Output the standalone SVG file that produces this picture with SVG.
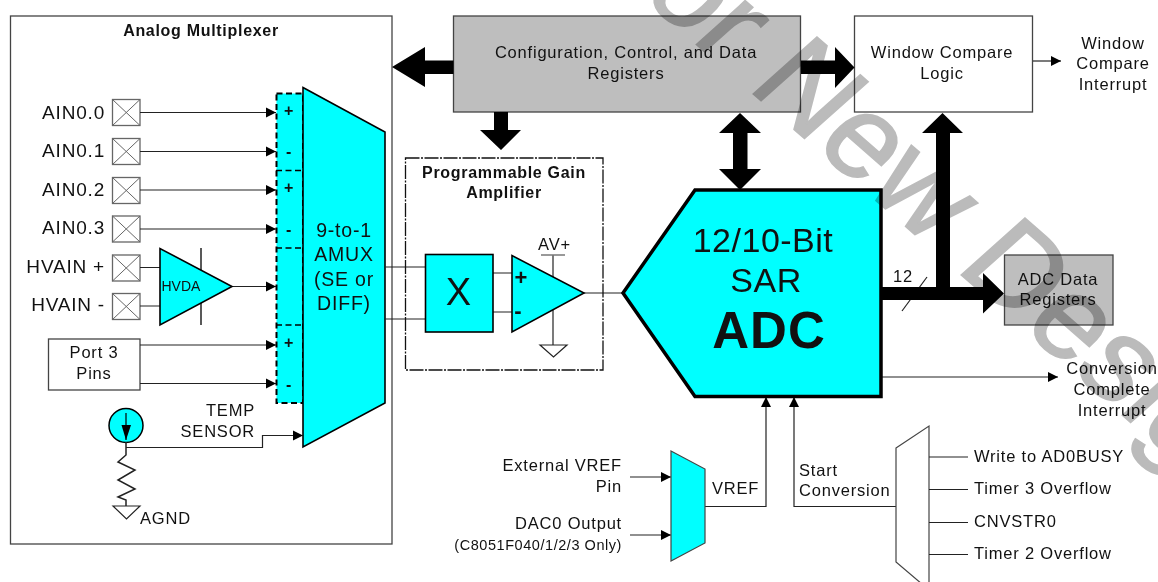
<svg xmlns="http://www.w3.org/2000/svg" width="1158" height="582" viewBox="0 0 1158 582">
<style>
text{font-family:"Liberation Sans",Arial,sans-serif;fill:#111;font-size:16.5px;letter-spacing:.8px}
.m{text-anchor:middle}.e{text-anchor:end}.b{font-weight:bold;font-size:16px;letter-spacing:.7px}
.box{fill:#fff;stroke:#444;stroke-width:1.3}
.gray{fill:#bebebe;stroke:#444;stroke-width:1.3}
.cy{fill:#0ff;stroke:#000;stroke-width:1.6}
.ln{fill:none;stroke:#222;stroke-width:1.2}
.pin line{stroke:#666;stroke-width:1}
.pin rect{fill:#fff;stroke:#666;stroke-width:1.3}
.pl{font-size:19px}
.sg{font-size:16px;font-weight:bold}
.th{fill:#000;stroke:none}
</style>
<defs>
<marker id="a" markerUnits="userSpaceOnUse" markerWidth="12" markerHeight="12" refX="10.500" refY="6" orient="auto"><path d="M.5 1L10.500 6L.5 11z" fill="#000"/></marker>
</defs>
<g id="analog-mux">
<rect class="box" x="10.500" y="16" width="381.500" height="528"/>
<text class="b m" x="201" y="36">Analog Multiplexer</text>
</g>
<g id="config"><rect class="gray" x="453.500" y="16" width="347" height="96"/>
<text class="m" x="626" y="58">Configuration, Control, and Data</text><text class="m" x="626" y="79">Registers</text></g>
<g id="window"><rect class="box" x="854.500" y="16" width="178" height="96"/>
<text class="m" x="942" y="58">Window Compare</text><text class="m" x="942" y="79">Logic</text></g>
<g id="window-int"><text class="m" x="1113" y="49">Window</text><text class="m" x="1113" y="69">Compare</text><text class="m" x="1113" y="90">Interrupt</text></g>
<g id="pins">
<g class="pin" id="ain00"><rect x="112.500" y="99.500" width="27.500" height="26"/><line x1="112.500" y1="99.500" x2="140" y2="125.500"/><line x1="140" y1="99.500" x2="112.500" y2="125.500"/></g>
<g class="pin" id="ain01"><rect x="112.500" y="138.500" width="27.500" height="26"/><line x1="112.500" y1="138.500" x2="140" y2="164.500"/><line x1="140" y1="138.500" x2="112.500" y2="164.500"/></g>
<g class="pin" id="ain02"><rect x="112.500" y="177.500" width="27.500" height="26"/><line x1="112.500" y1="177.500" x2="140" y2="203.500"/><line x1="140" y1="177.500" x2="112.500" y2="203.500"/></g>
<g class="pin" id="ain03"><rect x="112.500" y="216" width="27.500" height="26"/><line x1="112.500" y1="216" x2="140" y2="242"/><line x1="140" y1="216" x2="112.500" y2="242"/></g>
<g class="pin" id="hvp"><rect x="112.500" y="255" width="27.500" height="26"/><line x1="112.500" y1="255" x2="140" y2="281"/><line x1="140" y1="255" x2="112.500" y2="281"/></g>
<g class="pin" id="hvm"><rect x="112.500" y="293.500" width="27.500" height="26"/><line x1="112.500" y1="293.500" x2="140" y2="319.500"/><line x1="140" y1="293.500" x2="112.500" y2="319.500"/></g>
<text class="pl e" x="105" y="119">AIN0.0</text><text class="pl e" x="105" y="157">AIN0.1</text><text class="pl e" x="105" y="196">AIN0.2</text><text class="pl e" x="105" y="234">AIN0.3</text><text class="pl e" x="105" y="273">HVAIN +</text><text class="pl e" x="105" y="311">HVAIN -</text>
</g>
<g id="port3"><rect class="box" x="48.500" y="339" width="91.500" height="51"/><text class="m" x="94" y="358">Port 3</text><text class="m" x="94" y="379">Pins</text></g>
<g id="inputs">
<rect x="276.500" y="93.500" width="26.500" height="309.500" fill="#0ff" stroke="#000" stroke-width="2" stroke-dasharray="6 3.500"/>
<path d="M276 170.500H303M276 248H303M276 325H303" stroke="#000" stroke-width="1.500" stroke-dasharray="6 3.500" fill="none"/>
<text class="m sg" x="289" y="116">+</text><text class="m sg" x="289" y="157">-</text><text class="m sg" x="289" y="193">+</text><text class="m sg" x="289" y="235">-</text><text class="m sg" x="289" y="348">+</text><text class="m sg" x="289" y="390">-</text>
</g>
<g id="amux"><path class="cy" d="M303 87.500L385 132V403L303 447z"/>
<text class="m" x="344" y="237" style="font-size:19.500px">9-to-1</text><text class="m" x="344" y="261" style="font-size:19.500px">AMUX</text><text class="m" x="344" y="286" style="font-size:19.500px">(SE or</text><text class="m" x="344" y="310" style="font-size:19.500px">DIFF)</text></g>
<g id="connectors" fill="none">
<g class="ln">
<path marker-end="url(#a)" d="M140 112.500H276"/><path marker-end="url(#a)" d="M140 151.500H276"/><path marker-end="url(#a)" d="M140 190H276"/><path marker-end="url(#a)" d="M140 229H276"/>
<path d="M140 267.500H160M140 306H160"/><path marker-end="url(#a)" d="M232 286.500H276"/>
<path marker-end="url(#a)" d="M140 345H276"/><path marker-end="url(#a)" d="M140 383.500H276"/>
<path marker-end="url(#a)" d="M126 447.500H262.500V435.500H303"/>
<path d="M385 267H425.500M385 319H425.500M493 273H512M493 312H512M584 293H623"/>
<path marker-end="url(#a)" d="M881 377H1058"/>
<path marker-end="url(#a)" d="M1033 61H1061"/>
<path marker-end="url(#a)" d="M630 477H671"/><path marker-end="url(#a)" d="M630 535H671"/>
<path marker-end="url(#a)" d="M705 506.500H766V397"/>
<path marker-end="url(#a)" d="M896 506.500H794V397"/>
<path d="M902 311L927 277"/>
</g>
<path class="th" d="M392 67L425 47V60.500H453.500V74H425V87z"/>
<path class="th" d="M801 60.500H835V47L854.500 67.500L835 88V74H801z"/>
<path class="th" d="M494 112H508V130H521L501 150L480 130H494z"/>
<path class="th" d="M740 113L761 133H747.500V169H761L740 190L719 169H733V133H719z"/>
<path class="th" d="M881 287H936V133H922L942.500 113L963 133H950V287H983V273L1004 293.500L983 313.500V300H881z"/>
</g>
<g id="pga">
<rect x="405.500" y="158" width="197.500" height="212" fill="none" stroke="#111" stroke-width="1.300" stroke-dasharray="14 1.500 2 1.500"/>
<text class="b m" x="504" y="178">Programmable Gain</text><text class="b m" x="504" y="198">Amplifier</text>
<rect class="cy" x="425.500" y="254.500" width="67.500" height="77.500"/>
<text class="m" x="458.500" y="305" style="font-size:38px;letter-spacing:0">X</text>
<path class="ln" stroke-width="1.500" d="M553 255V345"/><path d="M541 255H565" stroke="#777" stroke-width="1.500"/>
<path d="M512 255.500V332L584 293z" class="cy"/>
<text class="m" x="554.500" y="250">AV+</text>
<text class="m" x="521" y="285" style="font-size:22px;font-weight:bold;letter-spacing:0">+</text><text class="m" x="518" y="318" style="font-size:22px;font-weight:bold;letter-spacing:0">-</text>
<path d="M540 345H567L553.500 357z" fill="#fff" stroke="#222" stroke-width="1.200"/>
</g>
<g id="hvda">
<path d="M201 248V325" stroke="#222" stroke-width="1.500"/>
<path class="cy" d="M160 248.500V325L232 286.500z"/>
<text x="161.500" y="291" style="font-size:14px;letter-spacing:0">HVDA</text>
</g>
<g id="temp">
<circle cx="126" cy="425.500" r="17" fill="#0ff" stroke="#000" stroke-width="1.500"/>
<path d="M126 413V440" stroke="#000" stroke-width="1.200"/><path d="M121.500 425H131L126 440z" fill="#000"/>
<path d="M126 442V455L118 462L135 470L118 480L135 489L118 497L126 500V506" fill="none" stroke="#222" stroke-width="1.500"/>
<path d="M113 506H140L126.500 519z" fill="#fff" stroke="#222" stroke-width="1.200"/>
<text x="140" y="524">AGND</text>
<text class="e" x="255" y="416">TEMP</text><text class="e" x="255" y="437">SENSOR</text>
</g>
<g id="adc"><path d="M623 293L695 190H881V396.500H695z" fill="#0ff" stroke="#000" stroke-width="3.500"/>
<text class="m" x="763" y="252" style="font-size:34px;letter-spacing:.5px">12/10-Bit</text><text class="m" x="766" y="292" style="font-size:34px;letter-spacing:.5px">SAR</text><text class="m" x="769" y="348" style="font-size:51px;font-weight:bold;letter-spacing:1px">ADC</text>
<text x="893" y="282">12</text></g>
<g id="data-reg"><rect class="gray" x="1004.500" y="255" width="108.500" height="70"/><text class="m" x="1058" y="285">ADC Data</text><text class="m" x="1058" y="305">Registers</text></g>
<g id="conv-int"><text class="m" x="1112" y="374">Conversion</text><text class="m" x="1112" y="395">Complete</text><text class="m" x="1112" y="416">Interrupt</text></g>
<g id="vref-mux"><path d="M671 451L705 469V543L671 561z" fill="#0ff" stroke="#444" stroke-width="1.200"/>
<text x="712" y="494">VREF</text></g>
<g id="vref-labels"><text class="e" x="622" y="471">External VREF</text><text class="e" x="622" y="492">Pin</text><text class="e" x="622" y="529">DAC0 Output</text><text class="e" x="622" y="550" style="font-size:14.500px;letter-spacing:.55px">(C8051F040/1/2/3 Only)</text></g>
<g id="start"><text x="799" y="476">Start</text><text x="799" y="496">Conversion</text>
<path d="M896 448L929 426V590L896 562z" fill="#fff" stroke="#444" stroke-width="1.200"/>
<path d="M929 457H968M929 489.500H968M929 522.500H968M929 554.500H968" stroke="#222" stroke-width="1.200"/>
<text x="974" y="462">Write to AD0BUSY</text><text x="974" y="494">Timer 3 Overflow</text><text x="974" y="527">CNVSTR0</text><text x="974" y="559">Timer 2 Overflow</text></g>
<text transform="matrix(.913 .795 -.922 .824 639.500 -5.300)" style="font-size:100px;fill:#bbb;stroke:#bbb;stroke-width:1.500;letter-spacing:0;mix-blend-mode:multiply">or New Desig</text>
</svg>
